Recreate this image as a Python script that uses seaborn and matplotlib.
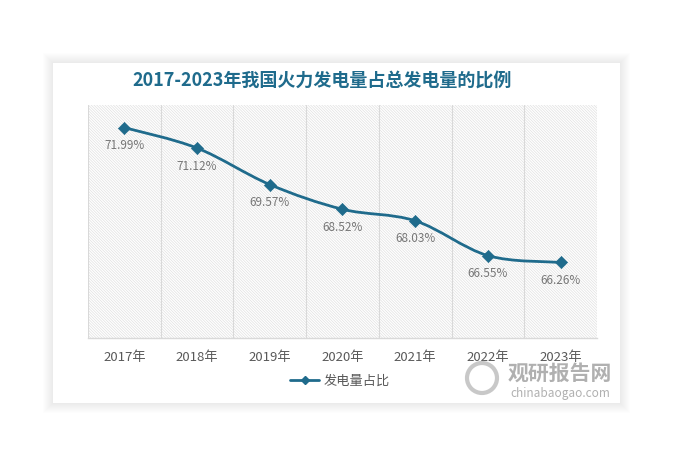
import numpy as np
import pandas as pd
import matplotlib
matplotlib.use("Agg")
import matplotlib.pyplot as plt
import seaborn as sns
from matplotlib.patches import Rectangle, PathPatch, Ellipse
from matplotlib.path import Path
from matplotlib.lines import Line2D

years = ["2017年", "2018年", "2019年", "2020年", "2021年", "2022年", "2023年"]
share = [71.99, 71.12, 69.57, 68.52, 68.03, 66.55, 66.26]
series_name = "发电量占比"
title = "2017-2023年我国火力发电量占总发电量的比例"

LINE_C = "#1f6b8c"
GRAY_TXT = "#595959"

sns.set_theme(style="white")
plt.rcParams["font.family"] = ["Noto Sans CJK SC", "DejaVu Sans"]
plt.rcParams["hatch.color"] = "#e0e0e0"
plt.rcParams["hatch.linewidth"] = 0.5

df = pd.DataFrame({"year": years, "share": share, "x": np.arange(len(years))})

W, H = 677, 458
fig = plt.figure(figsize=(W / 100, H / 100), dpi=100)
fig.patch.set_facecolor("white")

# card with soft shadow
cx0, cy0, cx1, cy1 = 53, 63, 620, 403
for i in range(10, 0, -1):
    fig.patches.append(Rectangle(((cx0 - i) / W, 1 - (cy1 + i) / H), (cx1 - cx0 + 2 * i) / W,
                                 (cy1 - cy0 + 2 * i) / H, transform=fig.transFigure,
                                 facecolor="black", edgecolor="none", alpha=0.007, zorder=-3))
fig.patches.append(Rectangle((cx0 / W, 1 - cy1 / H), (cx1 - cx0) / W, (cy1 - cy0) / H,
                             transform=fig.transFigure, facecolor="white", edgecolor="none", zorder=-2))

ax = fig.add_axes([88 / W, 1 - 338 / H, (597 - 88) / W, (338 - 105) / H])
ax.set_zorder(2)
ax.set_facecolor("white")
ax.add_patch(Rectangle((0, 0), 1, 1, transform=ax.transAxes, facecolor="white",
                       edgecolor="#e0e0e0", linewidth=0, hatch="\\" * 12, zorder=0))

for b in np.arange(-0.5, len(years) - 0.4, 1.0):
    ax.axvline(b, color="#d9d9d9", lw=0.8, zorder=1)

# smoothed line (Catmull-Rom style bezier through the data points)
xs = df["x"].to_numpy(float)
ys = df["share"].to_numpy(float)
pts = np.column_stack([xs, ys])
verts = [pts[0]]
codes = [Path.MOVETO]
n = len(pts)
for i in range(n - 1):
    p0 = pts[i - 1] if i > 0 else pts[i]
    p1 = pts[i]
    p2 = pts[i + 1]
    p3 = pts[i + 2] if i + 2 < n else pts[i + 1]
    c1 = p1 + (p2 - p0) / 6
    c2 = p2 - (p3 - p1) / 6
    verts += [c1, c2, p2]
    codes += [Path.CURVE4] * 3
ax.add_patch(PathPatch(Path(verts, codes), facecolor="none", edgecolor=LINE_C, lw=2, zorder=3))

sns.scatterplot(data=df, x="x", y="share", marker="D", s=38, color=LINE_C,
                edgecolor=LINE_C, ax=ax, zorder=4, legend=False)

for xv, yv in zip(xs, ys):
    ax.annotate(f"{yv:.2f}%", (xv, yv), xytext=(0, -13), textcoords="offset points",
                ha="center", va="center", fontsize=8.5, color="#777777", zorder=5)

ax.set_xlim(-0.5, len(years) - 0.5)
ax.set_ylim(63.05, 72.95)
ax.set_xticks(xs)
ax.set_xticklabels(years, fontsize=9.5, color=GRAY_TXT)
ax.tick_params(axis="x", length=0, pad=9)
ax.set_yticks([])
ax.set_xlabel("")
ax.set_ylabel("")
for s in ["top", "right", "left"]:
    ax.spines[s].set_visible(False)
ax.spines["bottom"].set_color("#d9d9d9")
ax.spines["bottom"].set_linewidth(1)

fig.text(322 / W, 1 - 80 / H, title, ha="center", va="center", fontsize=13,
         fontweight="bold", color="#1f6b8c")

handle = Line2D([], [], color=LINE_C, lw=2, marker="D", markersize=4)
fig.legend([handle], [series_name], loc="center", bbox_to_anchor=(340 / W, 1 - 381 / H),
           frameon=False, fontsize=9.5, handlelength=2.2, handletextpad=0.3,
           labelcolor=GRAY_TXT)

# watermark
fig.text(560 / W, 1 - 373 / H, "观研报告网", ha="center", va="center", fontsize=15,
         fontweight="bold", color="#a8a8a8", alpha=0.9, zorder=6)
fig.text(560 / W, 1 - 394 / H, "chinabaogao.com", ha="center", va="center", fontsize=8.5,
         color="#a8a8a8", alpha=0.9, zorder=6)
fig.patches.append(Ellipse((482 / W, 1 - 378 / H), 30 / W, 30 / H, transform=fig.transFigure,
                           facecolor="none", edgecolor="#c8c8c8", lw=3, zorder=6))

fig.savefig("out.png", dpi=100)
